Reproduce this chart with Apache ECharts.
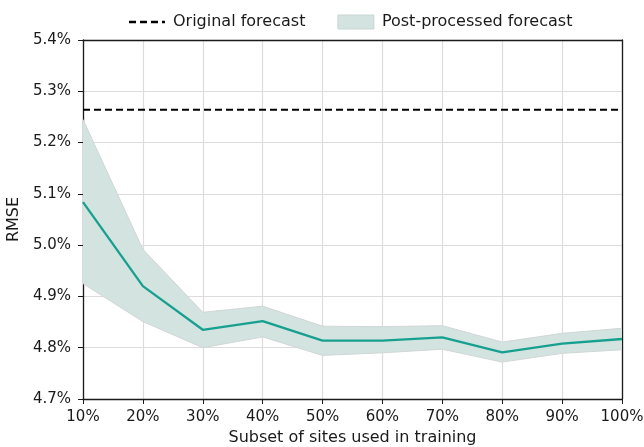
<!DOCTYPE html>
<html>
<head>
<meta charset="utf-8">
<script src="https://cdn.jsdelivr.net/npm/echarts@6/dist/echarts.min.js"></script>
<style>
  html, body { margin: 0; padding: 0; background: #fff; }
  #chart { width: 644px; height: 447px; }
</style>
</head>
<body>
<div id="chart"></div>
<script>
// Share of sites used to train the post-processing model
const subsets = ['10%', '20%', '30%', '40%', '50%', '60%', '70%', '80%', '90%', '100%'];
// RMSE (%) of the raw forecast, constant across subsets
const originalRmse = [5.264, 5.264, 5.264, 5.264, 5.264, 5.264, 5.264, 5.264, 5.264, 5.264];
// Mean RMSE (%) of the post-processed forecast
const postMean = [5.084, 4.920, 4.835, 4.852, 4.814, 4.814, 4.820, 4.791, 4.808, 4.817];
// Spread of the post-processed RMSE (%)
const postLower = [4.925, 4.851, 4.800, 4.821, 4.785, 4.790, 4.797, 4.772, 4.789, 4.796];
const postUpper = [5.245, 4.992, 4.869, 4.881, 4.842, 4.841, 4.843, 4.811, 4.828, 4.838];
// y-axis range (%)
const yMin = 4.7, yMax = 5.4, yStep = 0.1;

const bandHeight = postUpper.map((u, i) => +(u - postLower[i]).toFixed(4));

const FONT = 'DejaVu Sans';
const INK = '#1a1a1a';
const chart = echarts.init(document.getElementById('chart'), null, { renderer: 'canvas' });

// plain frame line used for the top and right edges of the plot box
const frameAxis = {
  axisLine: { show: true, lineStyle: { color: INK, width: 1.3 } },
  axisTick: { show: false },
  axisLabel: { show: false },
  splitLine: { show: false }
};

chart.setOption({
  animation: false,
  textStyle: { fontFamily: FONT },
  grid: { left: 83, right: 22, top: 40, bottom: 48, outerBoundsMode: 'none', containLabel: false },
  legend: {
    top: 9,
    left: 124,
    itemWidth: 36,
    itemHeight: 14,
    itemGap: 32,
    textStyle: { fontFamily: FONT, fontSize: 16, color: INK, padding: [0, 0, 0, 3] },
    data: [
      { name: 'Original forecast',
        icon: 'path://M0,0h7v2.4H0z M11,0h7v2.4h-7z M22,0h7v2.4h-7z M33,0h3v2.4h-3z',
        itemStyle: { color: '#000' } },
      { name: 'Post-processed forecast', icon: 'rect',
        itemStyle: { color: '#d3e3e0', borderColor: '#c9d6d4', borderWidth: 1 } }
    ]
  },
  xAxis: [
    {
      type: 'category',
      data: subsets,
      boundaryGap: false,
      name: 'Subset of sites used in training',
      nameLocation: 'middle',
      nameGap: 31,
      nameTextStyle: { fontFamily: FONT, fontSize: 16, color: INK },
      axisLine: { show: true, lineStyle: { color: INK, width: 1.3 } },
      axisTick: { show: true, alignWithLabel: true, length: 5, lineStyle: { color: INK } },
      axisLabel: { fontFamily: FONT, fontSize: 15, color: INK, margin: 11 },
      splitLine: { show: true, lineStyle: { color: '#dcdcdc', width: 1.2 } }
    },
    Object.assign({ type: 'category', data: subsets, boundaryGap: false, position: 'top' }, frameAxis)
  ],
  yAxis: [
    {
      type: 'value',
      min: yMin,
      max: yMax,
      interval: yStep,
      name: 'RMSE',
      nameLocation: 'middle',
      nameGap: 54,
      nameTextStyle: { fontFamily: FONT, fontSize: 16, color: INK },
      axisLine: { show: true, lineStyle: { color: INK, width: 1.3 } },
      axisTick: { show: true, length: 5, lineStyle: { color: INK } },
      axisLabel: {
        fontFamily: FONT, fontSize: 15, color: INK, margin: 12,
        formatter: v => v.toFixed(1) + '%'
      },
      splitLine: { show: true, lineStyle: { color: '#dcdcdc', width: 1.2 } }
    },
    Object.assign({ type: 'value', min: yMin, max: yMax, interval: yStep, position: 'right' }, frameAxis)
  ],
  series: [
    {
      name: 'band-lower',
      type: 'line',
      data: postLower,
      stack: 'band',
      symbol: 'none',
      silent: true,
      lineStyle: { color: '#d0d6d5', width: 1 },
      z: 2
    },
    {
      name: 'Post-processed forecast',
      type: 'line',
      data: bandHeight,
      stack: 'band',
      symbol: 'none',
      silent: true,
      lineStyle: { color: '#d0d6d5', width: 1 },
      areaStyle: { color: '#d3e3e0', opacity: 1 },
      z: 2
    },
    {
      name: 'Post-processed mean',
      type: 'line',
      data: postMean,
      symbol: 'none',
      lineStyle: { color: '#17a08f', width: 2.3 },
      z: 4
    },
    {
      name: 'Original forecast',
      type: 'line',
      data: originalRmse,
      symbol: 'none',
      lineStyle: { color: '#000', width: 2.2, type: [7, 4] },
      itemStyle: { color: '#000' },
      z: 5
    }
  ]
});
</script>
</body>
</html>
